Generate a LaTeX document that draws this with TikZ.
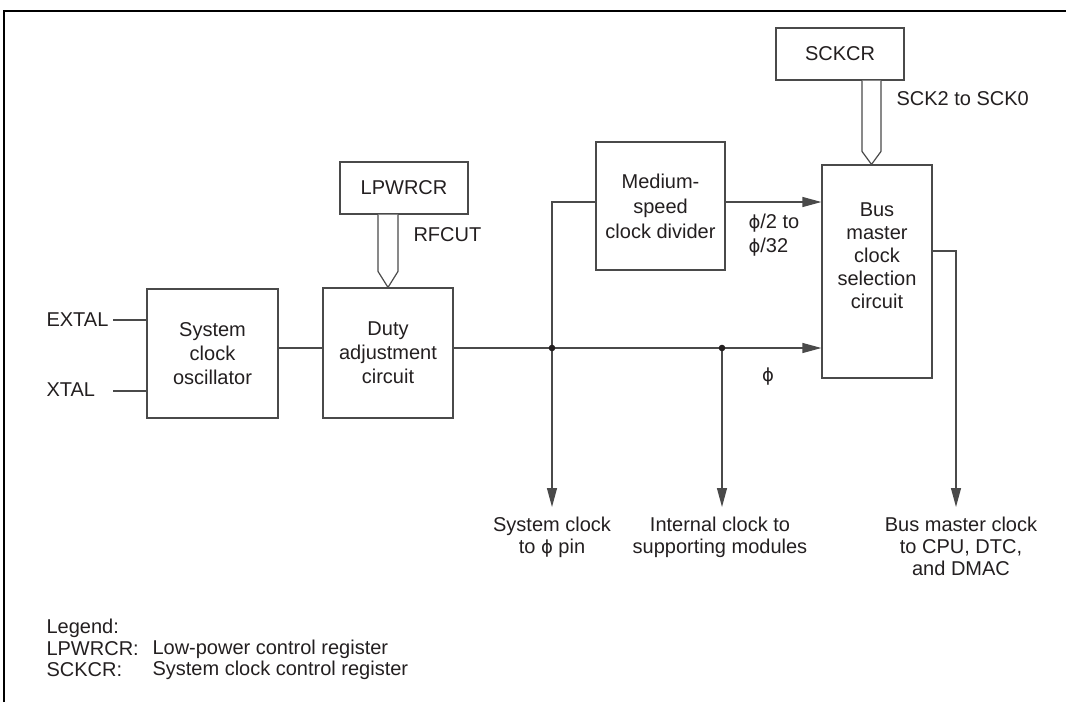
\documentclass[tikz,border=0pt]{standalone}
\usepackage{fontspec}
\setmainfont{Liberation Sans}
\newfontfamily\phifont{DejaVu Sans}
\newcommand{\myphi}{{\phifont\fontsize{18}{22}\selectfont ϕ}}
\usetikzlibrary{arrows.meta,calc}
\definecolor{ln}{HTML}{4A4A4A}
\definecolor{txt}{HTML}{231F20}
\begin{document}
\begin{tikzpicture}[x=1pt,y=-1pt,
  every node/.style={font=\fontsize{20}{24}\selectfont, text=txt},
  box/.style={draw=ln, line width=1.2pt, fill=white, inner sep=0pt, align=center},
  conn/.style={draw=ln, line width=1.2pt},
  arr/.style={conn, -{Triangle[length=19pt,width=10pt]}},
  hollow/.style={draw=ln, line width=1.2pt, fill=white, line join=miter},
  dot/.style={fill=txt}
]
\useasboundingbox (0,0) rectangle (1066,702);
% frame
\draw[black, line width=2.4pt] (4,702) -- (4,11) -- (1066,11);

% boxes
\node[box, minimum width=128pt, minimum height=52pt] (sckcr) at (840,54) {SCKCR};
\node[box, minimum width=128pt, minimum height=52pt] (lpwrcr) at (404,188) {LPWRCR};
\node[box, minimum width=131pt, minimum height=129pt] (sys) at (212.5,353.5) {System\\clock\\oscillator};
\node[box, minimum width=130pt, minimum height=130pt] (duty) at (388,353) {Duty\\adjustment\\circuit};
\node[box, minimum width=129pt, minimum height=128pt, font=\fontsize{20}{25}\selectfont] (med) at (660.5,206) {Medium-\\speed\\clock divider};
\node[box, minimum width=110pt, minimum height=213pt] (bus) at (877,271.5) {};
\node[align=center, font=\fontsize{20}{23}\selectfont] (bustext) at (877,256) {Bus\\master\\clock\\selection\\circuit};

% hollow register arrows
\coordinate (sckx) at (871.5,0);
\path (sckcr.south -| sckx) coordinate (s0) (bus.north -| sckx) coordinate (s1);
\draw[hollow] ($(s0)+(-9.5,0)$) -- ($(s1)+(-9.5,-13)$) -- (s1) -- ($(s1)+(9.5,-13)$) -- ($(s0)+(9.5,0)$);
\path (lpwrcr.south -| duty.north) coordinate (l0) (duty.north) coordinate (l1);
\draw[hollow] ($(l0)+(-10,0)$) -- ($(l1)+(-10,-16)$) -- (l1) -- ($(l1)+(10,-16)$) -- ($(l0)+(10,0)$);
\node[anchor=west] (sckl) at (893,99) {SCK2 to SCK0};
\node[anchor=west] (rfcut) at (410,235) {RFCUT};

% inputs
\node[anchor=west] (extal) at (43,320) {EXTAL};
\node[anchor=west] (xtal) at (43,390) {XTAL};
\coordinate (exs) at (113,320);
\coordinate (xts) at (113,391);
\draw[conn] (exs) -- (sys.west |- exs);
\draw[conn] (xts) -- (sys.west |- xts);

% main clock line
\coordinate (jn1) at (552,348);
\coordinate (jn2) at (722,348);
\coordinate (medy) at (0,202);
\coordinate (busout) at (0,251);
\coordinate (tipy) at (0,507);
\draw[conn] (sys.east |- jn1) -- (duty.west |- jn1);
\draw[arr] (duty.east |- jn1) -- (bus.west |- jn1);
\draw[arr] (med.west |- medy) -| (jn1 |- tipy);
\draw[arr] (jn2) -- (jn2 |- tipy);
\draw[arr] (med.east |- medy) -- (bus.west |- medy);
\draw[arr] (bus.east |- busout) -| (956,507);
\fill[dot] (jn1) circle (3.3);
\fill[dot] (jn2) circle (3.3);

% labels
\node[anchor=west, align=left] (divl) at (745,235) {\myphi/2 to\\\myphi/32};
\node (phil) at (768,377) {\myphi};
\node[anchor=north, align=center, font=\fontsize{20}{22}\selectfont] (l1t) at (552,513) {System clock\\to \myphi{} pin};
\node[anchor=north, align=center, font=\fontsize{20}{22}\selectfont] (l2t) at (720,513) {Internal clock to\\supporting modules};
\node[anchor=north, align=center, font=\fontsize{20}{22}\selectfont] (l3t) at (961,513) {Bus master clock\\to CPU, DTC,\\and DMAC};

% legend
\node[anchor=west] (lg) at (43,628) {Legend:};
\node[anchor=west] (lg1) at (43,649) {LPWRCR:};
\node[anchor=west] (lg1d) at (149,649) {Low-power control register};
\node[anchor=west] (lg2) at (43,670) {SCKCR:};
\node[anchor=west] (lg2d) at (149,670) {System clock control register};
\end{tikzpicture}
\end{document}
